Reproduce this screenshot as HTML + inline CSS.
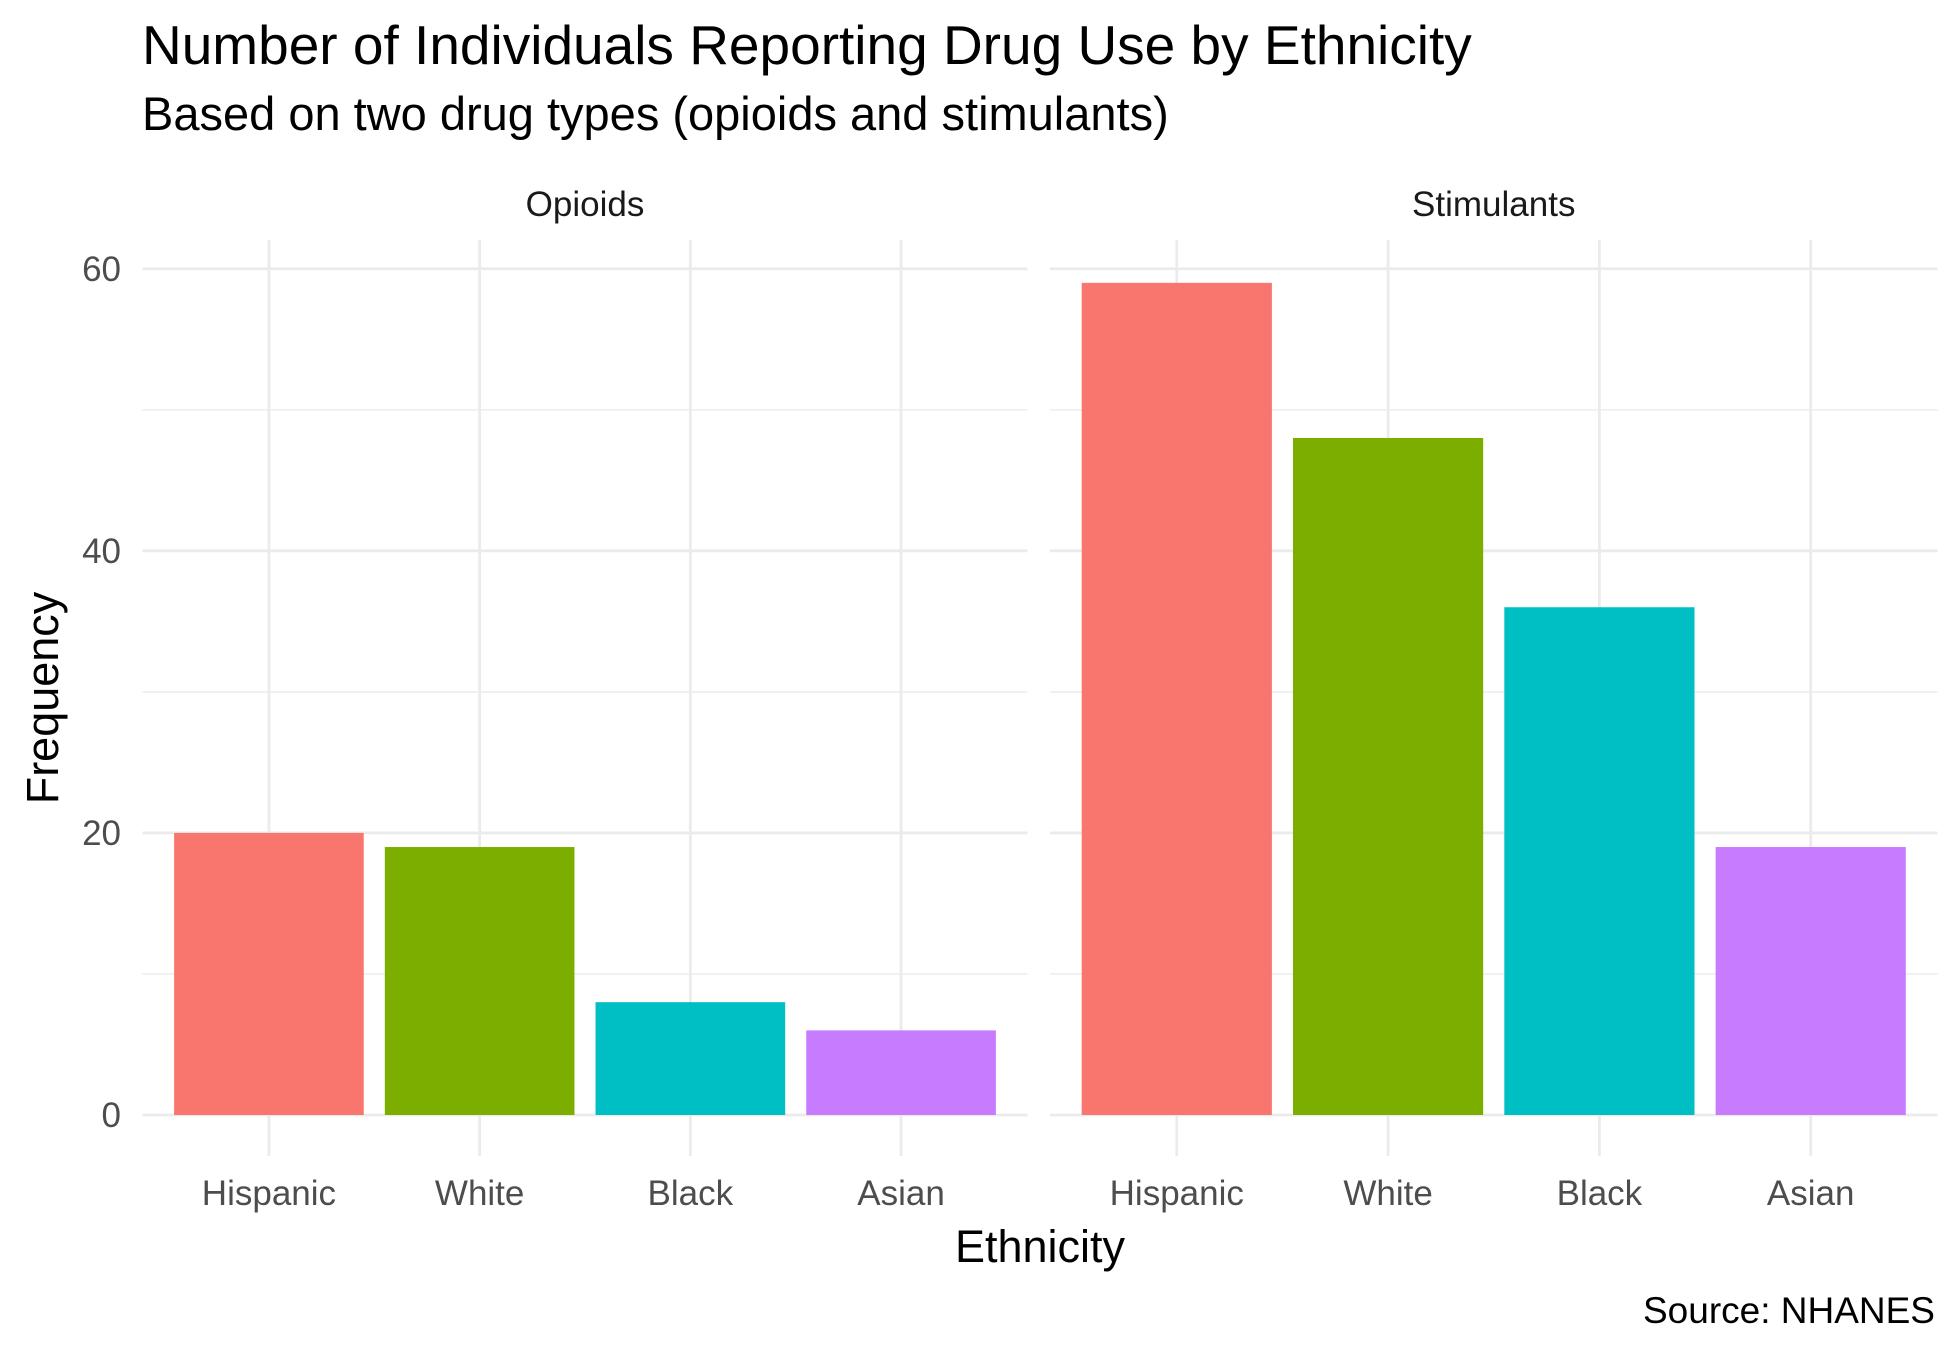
<!DOCTYPE html>
<html><head><meta charset="utf-8"><style>
html,body{margin:0;padding:0;background:#fff;}
svg{display:block;font-family:"Liberation Sans",Arial,sans-serif;}
</style></head><body>
<svg id="chart" width="1950" height="1350" viewBox="0 0 1950 1350" xmlns="http://www.w3.org/2000/svg">
<rect width="1950" height="1350" fill="#fff"/>
<text x="142" y="64" font-size="55" fill="#000">Number of Individuals Reporting Drug Use by Ethnicity</text>
<text x="142" y="130" font-size="47" fill="#000">Based on two drug types (opioids and stimulants)</text>
<g id="panels"></g>
<text x="1040" y="1262" font-size="45" text-anchor="middle" fill="#000">Ethnicity</text>
<text transform="translate(58,698) rotate(-90)" font-size="45" text-anchor="middle" fill="#000">Frequency</text>
<text x="1935" y="1323" font-size="37" text-anchor="end" fill="#000">Source: NHANES</text>
</svg>
<script>
const facets = ["Opioids", "Stimulants"];
const categories = ["Hispanic", "White", "Black", "Asian"];
const opioidValues = [20, 19, 8, 6];
const stimulantValues = [59, 48, 36, 19];
const yTicks = [0, 20, 40, 60];
const yMinor = [10, 30, 50];
const colors = ["#F8766D", "#7CAE00", "#00BFC4", "#C77CFF"];

const NS = "http://www.w3.org/2000/svg";
const g = document.getElementById("panels");
const panelX = [[142.5, 1027.5], [1050, 1937.5]];
const panelTop = 240, panelBottom = 1156;
const y0 = 1115, y60 = 268.75;
function yScale(v) { return y0 + (y60 - y0) * v / 60; }
function xScale(p, i) {
  const [a, b] = panelX[p];
  const step = (b - a) / (categories.length - 1 + 1.2);
  return a + step * (0.6 + i);
}
function bandW(p) { const [a, b] = panelX[p]; return 0.9 * (b - a) / (categories.length - 1 + 1.2); }
function mk(tag, attrs) { const e = document.createElementNS(NS, tag); for (const k in attrs) e.setAttribute(k, attrs[k]); g.appendChild(e); return e; }

const series = [opioidValues, stimulantValues];
facets.forEach((f, p) => {
  const [a, b] = panelX[p];
  yMinor.forEach(t => {
    const l = mk("line", { x1: a, x2: b, y1: yScale(t), y2: yScale(t), stroke: "#EBEBEB", "stroke-width": 1.4 });
    
    
  });
  yTicks.forEach(t => {
    const l = mk("line", { x1: a, x2: b, y1: yScale(t), y2: yScale(t), stroke: "#EBEBEB", "stroke-width": 2.8 });
    
    
  });
  categories.forEach((c, i) => {
    const l = mk("line", { x1: xScale(p, i), x2: xScale(p, i), y1: panelTop, y2: panelBottom, stroke: "#EBEBEB", "stroke-width": 2.8 });
    
    
  });
  series[p].forEach((v, i) => {
    const w = bandW(p);
    const r = mk("rect", { x: xScale(p, i) - w / 2, y: yScale(v), width: w, height: y0 - yScale(v), fill: colors[i] });
    
    
  });
  categories.forEach((c, i) => {
    const t = mk("text", { x: xScale(p, i), y: 1205, "font-size": 35, "text-anchor": "middle", fill: "#4D4D4D" });
    t.textContent = c;
    
    
  });
  const s = mk("text", { x: (a + b) / 2, y: 216, "font-size": 35, "text-anchor": "middle", fill: "#1A1A1A" });
  s.textContent = f;
  
  
});
yTicks.forEach(t => {
  const e = mk("text", { x: 121, y: yScale(t) + 12, "font-size": 35, "text-anchor": "end", fill: "#4D4D4D" });
  e.textContent = t;
  
  
});
</script>
</body></html>
